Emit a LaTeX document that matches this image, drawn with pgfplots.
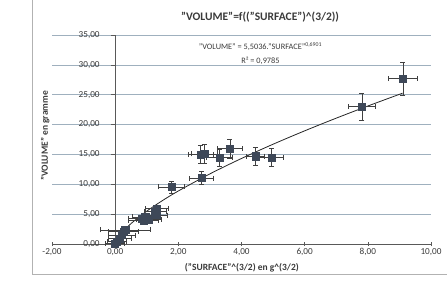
\documentclass[border=0pt]{standalone}
\usepackage{fontspec}
\setmainfont{Carlito}
\usepackage{pgfplots}
\usepackage{pgfplotstable}
\pgfplotsset{compat=1.18}
\definecolor{gridc}{HTML}{9FB0BE}
\definecolor{mk}{HTML}{3E4858}
\definecolor{txt}{HTML}{3A3A3A}
\pgfplotstableread{
x y ex ey
-0.02 0.10 0.30 0.05
0.05 0.40 0.30 0.10
0.14 0.95 0.36 0.15
0.21 1.50 0.43 0.20
0.26 2.05 0.48 0.25
0.32 2.35 0.80 0.30
0.85 4.30 0.43 0.45
0.90 4.00 0.48 0.40
0.95 4.55 0.42 0.50
1.06 4.10 0.40 0.40
1.27 5.40 0.35 0.55
1.32 5.95 0.37 0.60
1.30 4.85 0.35 0.50
1.78 9.55 0.42 1.00
2.74 11.05 0.38 1.05
2.70 15.00 0.40 1.55
2.82 15.10 0.40 1.55
3.30 14.45 0.40 1.40
3.63 15.95 0.40 1.65
4.44 14.70 0.28 1.55
4.95 14.45 0.38 1.50
7.81 23.00 0.42 2.30
9.11 27.70 0.45 2.75
}\data
\pgfplotstableread{
x y
0 0
0.01 0.229
0.05 0.696
0.1 1.123
0.2 1.812
0.5 3.411
1 5.504
1.5 7.281
2 8.880
3 11.747
4 14.327
5 16.712
6 18.952
7 21.077
8 23.111
9.1 25.26
}\fit
\begin{document}
\begin{tikzpicture}
\begin{axis}[
 scale only axis, width=379pt, height=209pt,
 xmin=-2, xmax=10, ymin=0, ymax=35,
 axis lines=middle, axis line style={-, draw=gray!70!black, line width=0.6pt},
 xtick={-2,0,...,10}, ytick={0,5,...,35},
 ymajorgrids, grid style={draw=gridc, line width=0.6pt},
 hide obscured x ticks=false, hide obscured y ticks=false,
 tick style={draw=gray!70!black, line width=0.6pt},
 major tick length=4pt,
 xtick align=center, ytick align=outside,
 /pgf/number format/.cd, fixed, fixed zerofill, precision=2, use comma, assume math mode=true,
 /pgfplots/.cd,
 ticklabel style={font=\fontsize{9.2}{10}\selectfont, text=txt},
 yticklabel style={xshift=-8pt},
 xticklabel style={yshift=1pt},
 clip=false,
]
\addplot[black!85, line width=0.8pt, smooth] table[x=x,y=y]{\fit};
\addplot[only marks, mark=square*, mark size=3.6pt, mark options={fill=mk, draw=mk},
  error bars/.cd, x dir=both, x explicit, y dir=both, y explicit,
  error bar style={black!75, line width=0.6pt},
  error mark options={rotate=90, mark size=2.5pt, black!75, line width=0.6pt}]
  table[x=x,y=y,x error=ex,y error=ey]{\data};
\node[font=\bfseries\fontsize{11.5}{13}\selectfont, text=txt] at (axis description cs:0.549,1.086) {"VOLUME"=f(("SURFACE")\textasciicircum(3/2))};
\node[font=\bfseries\fontsize{9.5}{11}\selectfont, text=txt] at (axis description cs:0.501,-0.115) {("SURFACE"\textasciicircum(3/2) en g\textasciicircum(3/2)};
\node[rotate=90, font=\bfseries\fontsize{9.5}{11}\selectfont, text=txt] at (axis description cs:-0.018,0.517) {"VOLUME" en gramme};
\node[font=\fontsize{8.3}{9}\selectfont, text=txt] at (axis cs:4.6,33.0) {"VOLUME" = 5,5036."SURFACE"\textsuperscript{0,6901}};
\node[font=\fontsize{8.3}{9}\selectfont, text=txt] at (axis cs:4.6,30.6) {R² = 0,9785};
\draw[gray!60, line width=0.8pt] (axis description cs:-0.053,1.17) -- (axis description cs:-0.053,-0.144) -- (axis description cs:1.05,-0.144);
\coordinate (bl) at (axis description cs:-0.1372,-0.1818);
\coordinate (tr) at (axis description cs:1.0422,1.1675);
\end{axis}
\pgfresetboundingbox
\path[use as bounding box] (bl) rectangle (tr);
\end{tikzpicture}
\end{document}
